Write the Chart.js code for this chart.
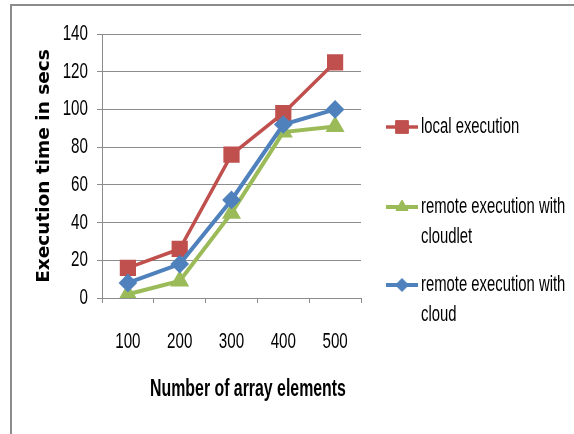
<!DOCTYPE html>
<html>
<head>
<meta charset="utf-8">
<script src="https://cdn.jsdelivr.net/npm/chart.js@4/dist/chart.umd.min.js"></script>
<style>
  html, body { margin: 0; padding: 0; background: #fff; }
  #wrap { position: relative; width: 574px; height: 434px; }
  #frame { position: absolute; left: 10px; top: 4px; right: 0; bottom: 0;
           border-top: 2px solid #8c8c8c; border-left: 2px solid #8c8c8c; }
  canvas { position: absolute; left: 0; top: 0; }
</style>
</head>
<body>
<div id="wrap">
  <div id="frame"></div>
  <canvas id="chart" width="574" height="434"></canvas>
</div>
<script>
// data
const categories = ['100', '200', '300', '400', '500'];
const localExec = [16, 26, 76, 98, 125];
const cloudletExec = [2, 9, 45, 88, 91];
const cloudExec = [8, 18, 52, 92, 100];
const seriesNames = [['local execution'], ['remote execution with', 'cloudlet'], ['remote execution with', 'cloud']];
const xTitle = 'Number of array elements';

const narrow = "'Liberation Sans', Arial, sans-serif";
const gridColor = '#8c8c8c';
const squeeze = 0.69;

// no narrow font installed: squeeze Liberation Sans text horizontally
const canvas = document.getElementById('chart');
const ctx2d = canvas.getContext('2d');
const origFillText = ctx2d.fillText.bind(ctx2d);
ctx2d.fillText = function (text, x, y, maxWidth) {
    if (ctx2d.font.indexOf('Liberation Sans') === -1) {
        return maxWidth === undefined ? origFillText(text, x, y) : origFillText(text, x, y, maxWidth);
    }
    ctx2d.save();
    ctx2d.translate(x, y);
    ctx2d.scale(squeeze, 1);
    origFillText(text, 0, 0);
    ctx2d.restore();
};

// legend on the right and the x title, drawn from the datasets
const sideLegend = {
    id: 'sideLegend',
    afterDraw(chart) {
        const ctx = chart.ctx;
        const rows = [127, 207, 285];
        ctx.save();
        chart.data.datasets.forEach((ds, i) => {
            const y = rows[i];
            ctx.strokeStyle = ds.borderColor;
            ctx.lineWidth = ds.borderWidth;
            ctx.beginPath();
            ctx.moveTo(386, y);
            ctx.lineTo(418, y);
            ctx.stroke();
            ctx.fillStyle = ds.pointBackgroundColor;
            ctx.strokeStyle = ds.borderColor;
            ctx.lineWidth = 1;
            Chart.helpers.drawPoint(ctx, { pointStyle: ds.pointStyle, radius: ds.pointRadius, rotation: 0, borderWidth: 1 }, 402, y);
            ctx.fillStyle = '#000';
            ctx.font = '21.5px ' + narrow;
            ctx.textBaseline = 'middle';
            ctx.textAlign = 'left';
            ds.legendLines.forEach((t, k) => ctx.fillText(t, 421, y + k * 30));
        });
        ctx.font = 'bold 23px ' + narrow;
        ctx.textAlign = 'center';
        ctx.textBaseline = 'middle';
        ctx.fillText(xTitle, 248, 390);
        ctx.restore();
    }
};

new Chart(ctx2d, {
    type: 'line',
    data: {
        labels: categories,
        datasets: [{
            label: 'local execution',
            legendLines: seriesNames[0],
            data: localExec,
            borderColor: '#C0504D',
            pointBackgroundColor: '#C0504D',
            pointStyle: 'rect',
            pointRadius: 9,
            borderWidth: 3.5,
            order: 3
        }, {
            label: 'remote execution with cloudlet',
            legendLines: seriesNames[1],
            data: cloudletExec,
            borderColor: '#9BBB59',
            pointBackgroundColor: '#9BBB59',
            pointStyle: 'triangle',
            pointRadius: 7,
            borderWidth: 4,
            order: 2
        }, {
            label: 'remote execution with cloud',
            legendLines: seriesNames[2],
            data: cloudExec,
            borderColor: '#4F81BD',
            pointBackgroundColor: '#4F81BD',
            pointStyle: 'rectRot',
            pointRadius: 6.5,
            borderWidth: 4,
            order: 1
        }]
    },
    options: {
        responsive: false,
        animation: false,
        layout: { padding: { top: 34, right: 213, bottom: 20, left: 0 } },
        plugins: {
            legend: { display: false },
            tooltip: { enabled: false }
        },
        scales: {
            x: {
                offset: true,
                grid: { display: true, drawOnChartArea: false, drawTicks: true, tickLength: 5, color: gridColor, offset: true },
                border: { color: gridColor, width: 1 },
                ticks: { color: '#000', font: { family: narrow, size: 22 }, padding: 26, maxRotation: 0 },
                title: { display: false },
                afterFit(scale) { scale.height = 434 - 298 - 20; }
            },
            y: {
                min: 0,
                max: 140,
                ticks: { stepSize: 20, color: '#000', font: { family: narrow, size: 22 }, padding: 9 },
                grid: { color: gridColor, tickLength: 5 },
                border: { color: gridColor, width: 1 },
                title: { display: true, text: 'Execution time in secs', color: '#000',
                         font: { family: "'DejaVu Sans', sans-serif", size: 18.5, weight: 'bold' }, padding: { top: 33, bottom: 0 } },
                afterFit(scale) { scale.width = 102; }
            }
        }
    },
    plugins: [sideLegend]
});
</script>
</body>
</html>
